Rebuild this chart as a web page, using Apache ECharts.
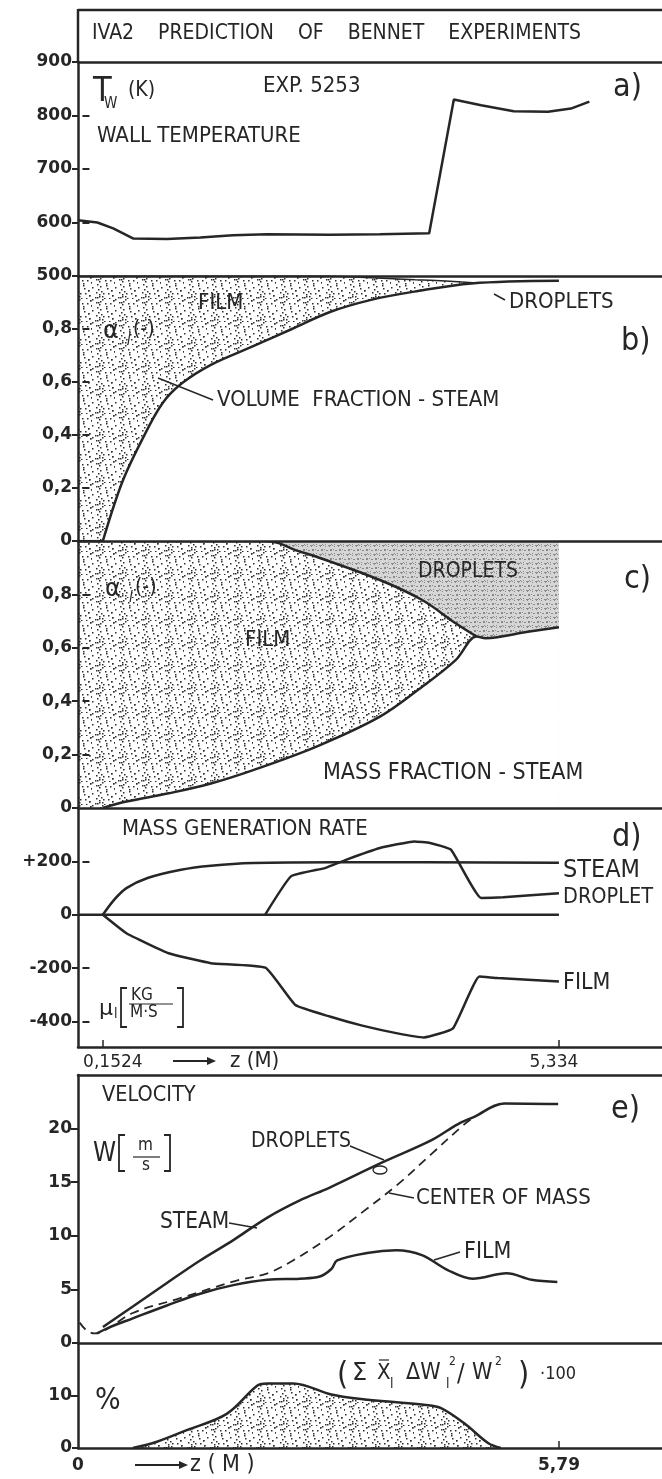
<!DOCTYPE html>
<html>
<head>
<meta charset="utf-8">
<script src="https://cdn.jsdelivr.net/npm/echarts@6/dist/echarts.min.js"></script>
<style>
  html, body { margin: 0; padding: 0; background: #fff; }
  #chart { width: 662px; height: 1479px; }
</style>
</head>
<body>
<div id="chart"></div>
<script>
// panels a-d: z in m on the heated-length scale (0,1524 .. 5,334)
const wallZ = [-0.13, 0.09, 0.27, 0.5, 0.88, 1.26, 1.63, 2.02, 2.73, 3.3, 3.86, 4.14, 4.45, 4.82, 5.21, 5.47, 5.68];
const wallT = [604, 600, 589, 570, 569, 572, 576, 578, 577, 578, 580, 830, 819, 808, 807, 813, 826];

const volSteamZ = [0.1524, 0.37, 0.61, 0.83, 1.05, 1.38, 1.86, 2.3, 2.74, 3.2, 3.69, 4.34, 5.334];
const volSteam = [0, 0.22, 0.39, 0.52, 0.595, 0.665, 0.735, 0.8, 0.865, 0.91, 0.941, 0.972, 0.982];
const volFilmTopZ = [-0.13, 2.63, 3.2, 3.7, 4.05, 4.4];
const volFilmTop = [1, 1, 0.993, 0.986, 0.981, 0.974];

const massSteamZ = [0.1524, 0.42, 0.9, 1.38, 1.86, 2.58, 3.3, 3.78, 4.16, 4.4, 4.5, 4.98, 5.334];
const massSteam = [0, 0.024, 0.055, 0.092, 0.142, 0.23, 0.342, 0.454, 0.554, 0.642, 0.636, 0.66, 0.677];
const massFilmTopZ = [-0.13, 2.0, 2.15, 2.34, 2.58, 3.3, 3.78, 4.16, 4.4];
const massFilmTop = [1, 1, 0.992, 0.966, 0.941, 0.854, 0.779, 0.692, 0.642];
const massDropTopZ = [2.0, 5.334];
const massDropTop = [1, 1];

const genZeroZ = [-0.13, 5.334];
const genZero = [0, 0];
const genSteamZ = [0.1524, 0.28, 0.42, 0.66, 1.04, 1.38, 1.86, 2.82, 5.334];
const genSteam = [0, 56, 100, 138, 169, 184, 194, 197, 195];
const genDropZ = [1.995, 2.29, 2.675, 2.915, 3.3, 3.69, 3.87, 4.107, 4.45, 4.7, 5.334];
const genDrop = [0, 144, 175, 206, 250, 275, 269, 244, 63, 66, 81];
const genFilmZ = [0.1524, 0.42, 0.9, 1.38, 2.0, 2.34, 2.73, 3.1, 3.5, 3.8, 4.13, 4.43, 4.64, 5.334];
const genFilm = [0, -69, -144, -181, -198, -338, -381, -415, -444, -459, -425, -231, -237, -250];

// panels e-f: z in m, 0 .. 5,79
const velSteamZ = [0.3, 0.66, 1.07, 1.47, 1.87, 2.28, 2.67, 3.03, 3.65, 4.25, 4.57, 4.77, 5.13, 5.78];
const velSteam = [1.5, 3.4, 5.6, 7.7, 9.6, 11.7, 13.3, 14.5, 16.8, 18.9, 20.4, 21.1, 22.35, 22.3];
const velFilmZ = [0.23, 0.39, 0.66, 1.07, 1.47, 1.87, 2.28, 2.67, 2.91, 3.05, 3.12, 3.48, 3.83, 4.14, 4.45, 4.75, 5.16, 5.46, 5.77];
const velFilm = [0.9, 1.5, 2.3, 3.5, 4.6, 5.4, 5.9, 6.0, 6.2, 6.9, 7.7, 8.4, 8.65, 8.2, 6.8, 6.0, 6.5, 5.9, 5.7];
const velMassZ = [0.02, 0.1, 0.2, 0.35, 0.66, 1.24, 1.9, 2.28, 2.61, 3.03, 3.44, 3.85, 4.25, 4.65, 4.77];
const velMass = [1.9, 1.2, 0.9, 1.3, 2.8, 4.2, 5.8, 6.5, 7.8, 9.9, 12.3, 14.8, 17.6, 20.4, 21.1];

const slipZ = [0.66, 0.95, 1.31, 1.79, 2.16, 2.28, 2.59, 3.05, 3.38, 4.19, 4.37, 4.65, 4.94, 5.09];
const slip = [0, 1.2, 3.4, 6.5, 11.9, 12.3, 12.3, 10.2, 9.4, 8.2, 7.6, 4.7, 0.9, 0];

// tick labels
const aTicks = [500, 600, 700, 800, 900];
const fracTicks = [0, 0.2, 0.4, 0.6, 0.8];
const genTicks = [-400, -200, 0, 200];
const velTicks = [0, 5, 10, 15, 20];
const slipTicks = [0, 10];
const dZTicks = [0.1524, 5.334];
const fZTicks = [0, 5.79];

const INK = '#262626';
const NARROW = '"Liberation Sans Narrow", "DejaVu Sans Condensed", "Liberation Sans", sans-serif';
const NUMFONT = 'DejaVu Sans';

// stipple textures for the shaded regions
function texture(size, count, dot, bg, ink) {
  const c = document.createElement('canvas');
  c.width = c.height = size;
  const g = c.getContext('2d');
  g.fillStyle = bg;
  g.fillRect(0, 0, size, size);
  g.fillStyle = ink;
  for (let i = 0; i < count; i++) {
    const x = (i * 13 + (i * i) % 7) % size;
    const y = (i * 29 + (i * 3) % 11) % size;
    g.fillRect(x, y, dot, dot);
  }
  return c;
}
const filmFill = { image: texture(23, 34, 1.5, '#ffffff', '#2e2e2e'), repeat: 'repeat' };
const dropFill = { image: texture(9, 16, 1, '#d6d6d6', '#8a8a8a'), repeat: 'repeat' };

const comma = v => String(v).replace('.', ',');

const gridBoxes = [
  [62, 214], [276, 265], [541, 267], [808, 239], [1075, 268], [1343, 105]
];

const zAB = [-0.13, 6.505];
const zEF = [0, 7.03];

function zAxis(gridIndex, range, extra) {
  return Object.assign({
    gridIndex, type: 'value', min: range[0], max: range[1], z: 10,
    axisLine: { show: true, onZero: false, lineStyle: { color: INK, width: 2.5 } },
    axisTick: { show: false }, axisLabel: { show: false }, splitLine: { show: false }
  }, extra || {});
}

function leftAxis(gridIndex, min, max, ticks, fmt) {
  return {
    gridIndex, type: 'value', min, max, z: 10,
    axisLine: { show: true, onZero: false, lineStyle: { color: INK, width: 2.5 } },
    axisTick: { show: true, length: 6, customValues: ticks, lineStyle: { color: INK, width: 2 } },
    axisLabel: {
      customValues: ticks, margin: 6, formatter: fmt,
      fontFamily: NUMFONT, fontWeight: 'bold', fontSize: 17, color: INK
    },
    splitLine: { show: false }
  };
}

function rightAxis(gridIndex, min, max, ticks) {
  return {
    gridIndex, type: 'value', min, max, position: 'right', z: 10,
    axisLine: { show: false },
    axisTick: { show: true, inside: true, length: 7, customValues: ticks, lineStyle: { color: INK, width: 2 } },
    axisLabel: { show: false }, splitLine: { show: false }
  };
}

function curve(name, idx, xs, ys, extra) {
  return Object.assign({
    name, type: 'line', xAxisIndex: idx, yAxisIndex: idx,
    data: xs.map((x, i) => [x, ys[i]]),
    symbol: 'none', smooth: 0.35, silent: true,
    lineStyle: { color: INK, width: 2.5 }
  }, extra || {});
}

function text(str, x, y, size, family, extra) {
  return Object.assign({
    type: 'text', x, y, z: 50, silent: true,
    style: { text: str, font: size + 'px ' + (family || NARROW), fill: INK, align: 'left', verticalAlign: 'middle' }
  }, extra || {});
}
function italic(str, x, y, size) {
  return text(str, x, y, size, NARROW, {
    style: { text: str, font: 'italic ' + size + 'px ' + NARROW, fill: INK, align: 'left', verticalAlign: 'middle' }
  });
}
function seg(x1, y1, x2, y2, w) {
  return { type: 'line', z: 50, silent: true, shape: { x1, y1, x2, y2 }, style: { stroke: INK, lineWidth: w || 1.5 } };
}
function poly(points, w) {
  return { type: 'polyline', z: 50, silent: true, shape: { points }, style: { stroke: INK, lineWidth: w || 1.5, fill: null } };
}
function arrowHead(x, y) {
  return { type: 'polygon', z: 50, silent: true, shape: { points: [[x - 9, y - 4], [x, y], [x - 9, y + 4]] }, style: { fill: INK } };
}

const chart = echarts.init(document.getElementById('chart'), null, { renderer: 'canvas' });

const option = {
  animation: false,
  backgroundColor: '#ffffff',
  grid: gridBoxes.map(b => ({ left: 78, right: 0, top: b[0], height: b[1], outerBoundsMode: 'none' })),
  xAxis: [
    zAxis(0, zAB),
    zAxis(1, zAB),
    zAxis(2, zAB),
    zAxis(3, zAB, {
      axisTick: { show: true, inside: true, length: 7, customValues: dZTicks, lineStyle: { color: INK, width: 1.5 } },
      axisLabel: {
        show: true, customValues: dZTicks, margin: 7,
        formatter: v => (v < 1 ? '{l|' + comma(v) + '}' : '{r|' + comma(v) + '}'),
        rich: {
          l: { fontFamily: NUMFONT, fontSize: 17, color: INK, padding: [0, 0, 0, 20] },
          r: { fontFamily: NUMFONT, fontSize: 17, color: INK, padding: [0, 10, 0, 0] }
        }
      }
    }),
    zAxis(4, zEF),
    zAxis(5, zEF, {
      axisTick: { show: true, inside: true, length: 7, customValues: [5.79], lineStyle: { color: INK, width: 1.5 } },
      axisLabel: {
        show: true, customValues: fZTicks, margin: 9, formatter: comma,
        fontFamily: NUMFONT, fontWeight: 'bold', fontSize: 17, color: INK
      }
    }),
    zAxis(0, zAB, { position: 'top' }),
    zAxis(4, zEF, { position: 'top' })
  ],
  yAxis: [
    leftAxis(0, 500, 900, aTicks),
    leftAxis(1, 0, 1, fracTicks, comma),
    leftAxis(2, 0, 1, fracTicks, comma),
    leftAxis(3, -495, 400, genTicks, v => (v > 0 ? '+' + v : String(v))),
    leftAxis(4, 0, 25, velTicks),
    leftAxis(5, 0, 20, slipTicks),
    rightAxis(0, 500, 900, [600, 700, 800]),
    rightAxis(1, 0, 1, [0.2, 0.4, 0.6, 0.8]),
    rightAxis(2, 0, 1, [0.2, 0.4, 0.6, 0.8]),
    rightAxis(3, -495, 400, genTicks),
    rightAxis(4, 0, 25, [5, 10, 15, 20]),
    rightAxis(5, 0, 20, [10])
  ],
  series: [
    curve('Wall temperature', 0, wallZ, wallT, { smooth: false }),

    curve('Film (volume)', 1, volFilmTopZ, volFilmTop, {
      z: 2, lineStyle: { color: INK, width: 1.5 },
      areaStyle: { color: filmFill, opacity: 1, origin: 'start' }
    }),
    curve('Steam (volume)', 1, volSteamZ, volSteam, {
      z: 3, areaStyle: { color: '#ffffff', opacity: 1, origin: 'start' }
    }),

    curve('Droplets (mass)', 2, massDropTopZ, massDropTop, {
      z: 1, smooth: false, lineStyle: { width: 0 },
      areaStyle: { color: dropFill, opacity: 1, origin: 'start' }
    }),
    curve('Film (mass)', 2, massFilmTopZ, massFilmTop, {
      z: 2, areaStyle: { color: filmFill, opacity: 1, origin: 'start' }
    }),
    curve('Steam (mass)', 2, massSteamZ, massSteam, {
      z: 3, areaStyle: { color: '#ffffff', opacity: 1, origin: 'start' }
    }),

    curve('Zero', 3, genZeroZ, genZero, { smooth: false }),
    curve('Steam generation', 3, genSteamZ, genSteam),
    curve('Droplet generation', 3, genDropZ, genDrop, { smooth: 0.12 }),
    curve('Film generation', 3, genFilmZ, genFilm, { smooth: 0.12 }),

    curve('Steam velocity', 4, velSteamZ, velSteam),
    curve('Film velocity', 4, velFilmZ, velFilm),
    curve('Center of mass velocity', 4, velMassZ, velMass, {
      lineStyle: { color: INK, width: 1.8, type: [9, 6] }
    }),

    curve('Slip term', 5, slipZ, slip, {
      areaStyle: { color: filmFill, opacity: 1, origin: 'start' }
    })
  ],
  graphic: [
    // title box
    seg(78, 10, 662, 10, 2.5),
    seg(78, 9, 78, 62, 2.5),
    text('IVA2    PREDICTION    OF    BENNET    EXPERIMENTS', 92, 34, 21),

    // a)
    text('EXP. 5253', 263, 86, 22),
    text('T', 93, 92, 34),
    text('W', 104, 104, 15),
    text('(K)', 128, 91, 21),
    text('WALL TEMPERATURE', 97, 136, 22),
    text('a)', 613, 88, 32),

    // b)
    text('FILM', 198, 303, 22),
    text('α', 103, 332, 24, NUMFONT),
    italic('l', 127, 340, 15),
    text('(-)', 133, 330, 21),
    text('DROPLETS', 509, 302, 22),
    seg(494, 294, 505, 300, 1.5),
    text('VOLUME  FRACTION - STEAM', 217, 400, 22),
    seg(158, 378, 213, 400, 1.5),
    text('b)', 621, 342, 32),

    // c)
    text('α', 105, 590, 24, NUMFONT),
    italic('l', 129, 598, 15),
    text('(-)', 135, 588, 21),
    text('FILM', 245, 640, 22),
    text('DROPLETS', 418, 572, 21),
    text('MASS FRACTION - STEAM', 323, 773, 23),
    text('c)', 624, 580, 32),

    // d)
    text('MASS GENERATION RATE', 122, 829, 22),
    text('STEAM', 563, 870, 25),
    text('DROPLET', 563, 897, 21.5),
    text('FILM', 563, 983, 23),
    text('d)', 612, 838, 32),
    text('μ', 99, 1009, 22, NUMFONT),
    text('l', 114, 1014, 14),
    poly([[127, 988], [121, 988], [121, 1027], [127, 1027]], 1.8),
    text('KG', 131, 996, 17),
    seg(129, 1004, 173, 1004, 1.2),
    text('M·S', 130, 1013, 17),
    poly([[177, 988], [183, 988], [183, 1027], [177, 1027]], 1.8),
    seg(173, 1061, 208, 1061, 2),
    arrowHead(216, 1061),
    text('z (M)', 230, 1061, 22),

    // e)
    text('VELOCITY', 102, 1095, 21.5),
    text('W', 93, 1154, 26),
    poly([[125, 1135], [119, 1135], [119, 1171], [125, 1171]], 1.8),
    text('m', 138, 1146, 17),
    seg(133, 1157, 160, 1157, 1.2),
    text('s', 142, 1166, 17),
    poly([[164, 1135], [170, 1135], [170, 1171], [164, 1171]], 1.8),
    text('DROPLETS', 251, 1142, 21),
    seg(350, 1146, 384, 1160, 1.5),
    { type: 'ellipse', z: 50, silent: true, shape: { cx: 380, cy: 1170, rx: 7, ry: 4 }, style: { stroke: INK, lineWidth: 1.3, fill: null } },
    text('STEAM', 160, 1222, 22.5),
    seg(229, 1223, 257, 1228, 1.5),
    text('CENTER OF MASS', 416, 1198, 22),
    seg(414, 1198, 389, 1193, 1.5),
    text('FILM', 464, 1252, 23),
    seg(460, 1252, 434, 1260, 1.5),
    text('e)', 611, 1110, 32),

    // f)
    text('%', 95, 1401, 30),
    text('(', 337, 1376, 32),
    text('Σ', 352, 1374, 24, NUMFONT),
    text('X', 377, 1373, 22),
    seg(379, 1360, 389, 1360, 1.2),
    text('l', 390, 1384, 14),
    text('ΔW', 406, 1373, 23),
    text('l', 446, 1384, 14),
    text('2', 449, 1362, 12),
    text('/', 457, 1374, 25),
    text('W', 472, 1373, 23),
    text('2', 495, 1362, 12),
    text(')', 518, 1376, 32),
    text('·100', 540, 1374, 18),
    seg(135, 1465, 180, 1465, 2),
    arrowHead(188, 1465),
    text('z ( M )', 190, 1465, 23)
  ]
};

chart.setOption(option);
</script>
</body>
</html>
